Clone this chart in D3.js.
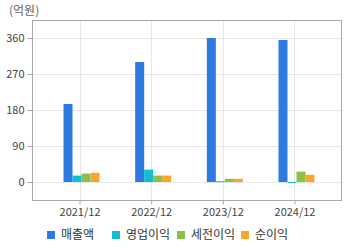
<!DOCTYPE html>
<html><head><meta charset="utf-8">
<script src="https://cdn.jsdelivr.net/npm/d3@7"></script>
<style>body{margin:0;background:#fff}svg{display:block}text{font-family:"Noto Sans CJK KR","DejaVu Sans",sans-serif}</style>
</head><body><svg id="c" width="360" height="248"></svg>
<script>
const categories = ["2021/12","2022/12","2023/12","2024/12"];
const seriesNames = ["매출액","영업이익","세전이익","순이익"];
const revenue = [195, 300, 360, 355];
const operating = [16, 31, 2, -1];
const pretax = [21, 16, 8, 26];
const net = [23, 16, 8, 18];
const yTicks = [0, 90, 180, 270, 360];
const colors = ["#2b7be0","#12bcd2","#8dc04b","#f8a72a"];
const series = [revenue, operating, pretax, net];

const svg = d3.select("#c");
const L=32, R=342, T=20, B=201;
const y = d3.scaleLinear().domain([-47.5, 405]).range([B, T]);
const x = d3.scalePoint().domain(categories).range([L, R]).padding(0.663);
const xs = d3.scaleBand().domain(d3.range(4)).range([-16, 20]);

svg.append("g").selectAll("line").data(yTicks).join("line")
  .attr("x1",L).attr("x2",R).attr("y1",d=>Math.round(y(d))+0.5).attr("y2",d=>Math.round(y(d))+0.5)
  .attr("stroke","#e6e6e6");
svg.append("g").selectAll("line").data(categories).join("line")
  .attr("y1",T).attr("y2",B).attr("x1",d=>Math.round(x(d))+0.5).attr("x2",d=>Math.round(x(d))+0.5)
  .attr("stroke","#e6e6e6");

series.forEach((vals,i)=>{
  svg.append("g").selectAll("rect").data(vals).join("rect")
    .attr("x",(d,j)=>x(categories[j])+xs(i))
    .attr("width",xs.bandwidth())
    .attr("y",d=>Math.min(y(d),y(0)))
    .attr("height",d=>Math.max(1,Math.abs(y(d)-y(0))))
    .attr("fill",colors[i]);
});

svg.append("rect").attr("x",L+0.5).attr("y",T+0.5).attr("width",R-L-1).attr("height",B-T-1)
  .attr("fill","none").attr("stroke","#aaa");

const ya = svg.append("g").attr("transform",`translate(${L+0.5},0)`)
  .call(d3.axisLeft(y).tickValues(yTicks).tickSize(5).tickPadding(3));
ya.select(".domain").remove();
ya.selectAll("line").attr("stroke","#aaa");
ya.selectAll("text").attr("fill","#444").style("font-size","11px");

const xa = svg.append("g").attr("transform",`translate(0,${B-0.5})`)
  .call(d3.axisBottom(x).tickSize(4).tickPadding(4));
xa.select(".domain").remove();
xa.selectAll("line").attr("stroke","#aaa");
xa.selectAll("text").attr("fill","#444").style("font-size","11px");

svg.append("text").attr("x",9).attr("y",15).attr("fill","#666").style("font-size","12px").text("(억원)");

const lx = [47, 112, 177, 241];
const lg = svg.append("g").selectAll("g").data(seriesNames).join("g")
  .attr("transform",(d,i)=>`translate(${lx[i]},231)`);
lg.append("rect").attr("width",8).attr("height",8).attr("fill",(d,i)=>colors[i]);
lg.append("text").attr("x",14).attr("y",8).attr("fill","#333").style("font-size","12px").text(d=>d);
</script></body></html>
